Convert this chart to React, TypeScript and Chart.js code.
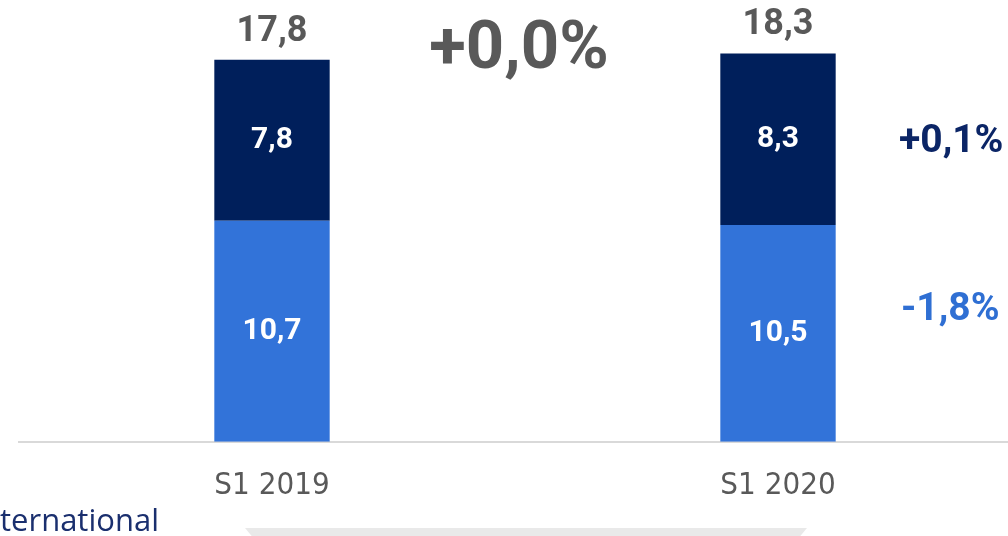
import React, { useEffect, useRef } from "react";
import { Chart, registerables } from "chart.js";

Chart.register(...registerables);

const categories = ["S1 2019", "S1 2020"];
const lowerValues = [10.7, 10.5];
const upperValues = [7.8, 8.3];
const lowerLabels = ["10,7", "10,5"];
const upperLabels = ["7,8", "8,3"];
const totalLabels = ["17,8", "18,3"];
const totalChange = "+0,0%";
const upperChange = "+0,1%";
const lowerChange = "-1,8%";
const legendText = "International";

const GRAY = "#595959";
const NAVY = "#001f5b";
const BLUE = "#3273d9";

const overlayPlugin = {
  id: "overlay",
  afterDatasetsDraw(chart: any) {
    const ctx = chart.ctx;
    const lower = chart.getDatasetMeta(0).data;
    const upper = chart.getDatasetMeta(1).data;
    ctx.save();
    ctx.textAlign = "center";
    ctx.textBaseline = "middle";
    // segment labels
    ctx.fillStyle = "#ffffff";
    ctx.font = "bold 30px Roboto";
    lower.forEach((b: any, i: number) => {
      ctx.fillText(lowerLabels[i], b.x, (b.y + b.base) / 2);
    });
    upper.forEach((b: any, i: number) => {
      ctx.fillText(upperLabels[i], b.x, (b.y + b.base) / 2);
    });
    // totals
    ctx.fillStyle = GRAY;
    ctx.font = "bold 36px Roboto";
    ctx.textBaseline = "alphabetic";
    upper.forEach((b: any, i: number) => {
      ctx.fillText(totalLabels[i], b.x, b.y - 19);
    });
    // total change
    const midX = (upper[0].x + upper[1].x) / 2 - 6;
    ctx.font = "bold 67px Roboto";
    ctx.fillText(totalChange, midX, 68);
    // right side changes
    ctx.textAlign = "left";
    ctx.textBaseline = "middle";
    ctx.font = "bold 39px Roboto";
    ctx.fillStyle = "#0b2566";
    ctx.fillText(upperChange, 899, 142);
    ctx.fillStyle = "#2f6fd3";
    ctx.fillText(lowerChange, 901, 310);
    // legend fragment (clipped at the left edge)
    ctx.textBaseline = "alphabetic";
    ctx.fillStyle = "#1a2f6e";
    ctx.font = "31px 'Open Sans'";
    const hidden = ctx.measureText("In").width;
    ctx.fillText(legendText, -hidden, 531);
    // trapezoid
    ctx.fillStyle = "#e9e9e9";
    ctx.beginPath();
    ctx.moveTo(245, 528);
    ctx.lineTo(807, 528);
    ctx.lineTo(797, 540);
    ctx.lineTo(255, 540);
    ctx.closePath();
    ctx.fill();
    ctx.restore();
  },
};

export default function App() {
  const ref = useRef<HTMLCanvasElement | null>(null);
  useEffect(() => {
    if (!ref.current) return;
    const chart = new Chart(ref.current, {
      type: "bar",
      data: {
        labels: categories,
        datasets: [
          { data: lowerValues, backgroundColor: BLUE, barPercentage: 0.228, categoryPercentage: 1 },
          { data: upperValues, backgroundColor: NAVY, barPercentage: 0.228, categoryPercentage: 1 },
        ],
      },
      options: {
        animation: false,
        responsive: true,
        maintainAspectRatio: false,
        layout: { padding: { left: 19, right: 9, top: 8, bottom: 5 } },
        plugins: { legend: { display: false }, tooltip: { enabled: false } },
        scales: {
          x: {
            stacked: true,
            grid: { display: false, drawTicks: false },
            border: { display: true, color: "#d9d9d9", width: 2 },
            ticks: {
              color: GRAY,
              padding: 26,
              font: { family: "'Liberation Sans Narrow', 'DejaVu Sans Condensed', Roboto", size: 31, weight: "normal" },
            },
          },
          y: { stacked: true, display: false, min: 0, max: 21 },
        },
      },
      plugins: [overlayPlugin],
    });
    return () => chart.destroy();
  }, []);
  return (
    <div style={{ position: "fixed", left: 0, top: 0, width: 1008, height: 536, overflow: "hidden", background: "#fff" }}>
      <div style={{ position: "relative", width: 1040, height: 536 }}>
        <canvas ref={ref} />
      </div>
    </div>
  );
}
